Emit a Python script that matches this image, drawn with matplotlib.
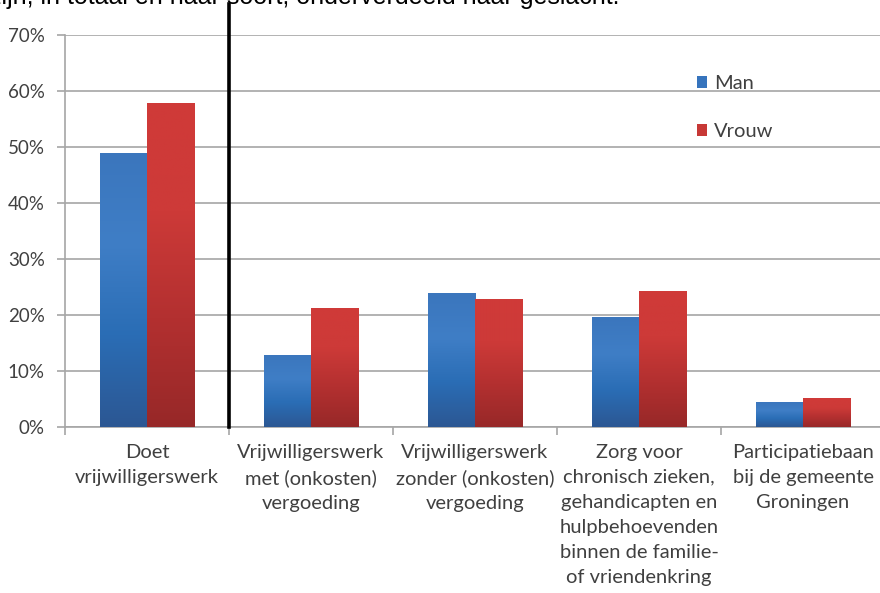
import numpy as np
import matplotlib
matplotlib.use('Agg')
import matplotlib.pyplot as plt
from matplotlib.colors import LinearSegmentedColormap
from matplotlib.patches import Patch

plt.rcParams['font.family'] = ['Lato', 'DejaVu Sans']

categories = ['Doet\nvrijwilligerswerk',
              'Vrijwilligerswerk\nmet (onkosten)\nvergoeding',
              'Vrijwilligerswerk\nzonder (onkosten)\nvergoeding',
              'Zorg voor\nchronisch zieken,\ngehandicapten en\nhulpbehoevenden\nbinnen de familie-\nof vriendenkring',
              'Participatiebaan\nbij de gemeente\nGroningen']
man = [49.0, 12.9, 23.9, 19.6, 4.4]
vrouw = [57.9, 21.2, 22.8, 24.2, 5.1]
yticks = [0, 10, 20, 30, 40, 50, 60, 70]
title = 'zijn, in totaal en naar soort, onderverdeeld naar geslacht.'

blue_cm = LinearSegmentedColormap.from_list('b', ['#2c5793', '#2a6db5', '#3f7ec6', '#3b76bd'])
red_cm = LinearSegmentedColormap.from_list('r', ['#972828', '#b33030', '#cd3a38', '#d03a38'])

fig = plt.figure(figsize=(8.8, 5.93), dpi=100)
ax = fig.add_axes([65 / 880, 1 - 427 / 593, 820 / 880, 392 / 593])

x = np.arange(len(categories))
w = 0.287
grad = np.linspace(0, 1, 256).reshape(-1, 1)


def gbar(xs, vals, cmap, col):
    bars = ax.bar(xs, vals, w, color=col, zorder=3, linewidth=0)
    for b in bars:
        x0, y0 = b.get_x(), b.get_y()
        im = ax.imshow(grad, cmap=cmap, origin='lower', aspect='auto',
                       extent=[x0, x0 + b.get_width(), y0, y0 + b.get_height()],
                       zorder=4)
        im.set_clip_path(b)
    return bars


gbar(x - w / 2, man, blue_cm, '#3674bd')
gbar(x + w / 2, vrouw, red_cm, '#c03535')

ax.set_xlim(-0.5, len(categories) - 0.5)
ax.set_ylim(0, 70)
ax.set_yticks(yticks)
ax.set_yticklabels(['%d%%' % v for v in yticks])
ax.yaxis.grid(True, color='#a6a6a6', linewidth=1.2, zorder=0)
ax.set_axisbelow(True)

ax.set_xticks(x)
ax.set_xticklabels(categories, linespacing=1.58)
ax.set_xticks(np.arange(-0.5, len(categories)), minor=True)
ax.tick_params(axis='x', which='major', length=0, pad=12, labelsize=14.5, colors='#404040')
ax.tick_params(axis='x', which='minor', length=6, color='#a6a6a6', width=1.2)
ax.tick_params(axis='y', length=6, color='#a6a6a6', width=1.2, labelsize=13.5, colors='#404040', pad=8.5)

for s in ['top', 'right']:
    ax.spines[s].set_visible(False)
for s in ['left', 'bottom']:
    ax.spines[s].set_color('#a6a6a6')
    ax.spines[s].set_linewidth(1.2)

# black separator line
ax.plot([0.5, 0.5], [0, 75.5], color='black', lw=2.6, clip_on=False, zorder=6)

handles = [Patch(facecolor='#3674bd', label='Man'), Patch(facecolor='#c73836', label='Vrouw')]
ax.legend(handles=handles, loc='upper left', bbox_to_anchor=(679 / 880, 1 - 57 / 593),
          bbox_transform=fig.transFigure, frameon=False, handlelength=0.5, handleheight=0.5,
          handletextpad=0.35, labelspacing=1.55, fontsize=14.5, labelcolor='#404040')

fig.text(-0.012, 1 - 4 / 593, title, fontsize=18, family='Liberation Sans', va='baseline', ha='left')

fig.savefig('out.png', dpi=100)
